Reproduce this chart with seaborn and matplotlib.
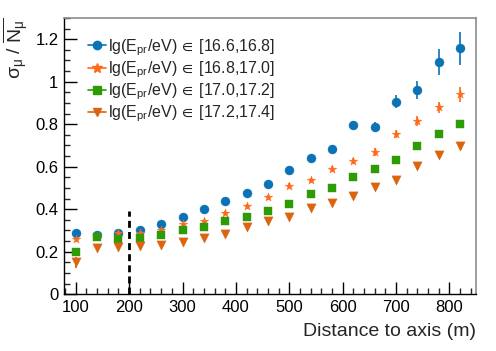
import numpy as np
import pandas as pd
import matplotlib
matplotlib.use("Agg")
import matplotlib.pyplot as plt
import seaborn as sns
from matplotlib.ticker import MultipleLocator
from matplotlib.lines import Line2D

# distance to shower axis (m)
distance = [100, 140, 180, 220, 260, 300, 340, 380, 420, 460,
            500, 540, 580, 620, 660, 700, 740, 780, 820]

# relative fluctuation sigma_mu / <N_mu>, one list per energy bin
bin_a = [0.290, 0.276, 0.290, 0.304, 0.331, 0.361, 0.400, 0.438, 0.478, 0.520,
         0.584, 0.640, 0.682, 0.795, 0.788, 0.906, 0.959, 1.092, 1.156]
bin_b = [0.259, 0.274, 0.289, 0.290, 0.300, 0.329, 0.343, 0.384, 0.413, 0.455,
         0.510, 0.536, 0.588, 0.626, 0.668, 0.753, 0.814, 0.879, 0.941]
bin_c = [0.199, 0.271, 0.259, 0.265, 0.278, 0.303, 0.315, 0.342, 0.365, 0.391,
         0.424, 0.469, 0.500, 0.549, 0.588, 0.629, 0.698, 0.753, 0.800]
bin_d = [0.149, 0.216, 0.223, 0.227, 0.231, 0.246, 0.265, 0.284, 0.317, 0.344,
         0.364, 0.405, 0.430, 0.464, 0.502, 0.536, 0.601, 0.654, 0.695]

# error bars
err_a = [0.008, 0.006, 0.006, 0.006, 0.006, 0.006, 0.007, 0.007, 0.008, 0.009,
         0.010, 0.011, 0.013, 0.018, 0.022, 0.031, 0.043, 0.060, 0.080]
err_b = [0.014, 0.008, 0.008, 0.008, 0.008, 0.008, 0.008, 0.009, 0.010, 0.010,
         0.011, 0.012, 0.013, 0.015, 0.018, 0.020, 0.024, 0.027, 0.035]
err_c = [0.010, 0.005, 0.005, 0.005, 0.005, 0.005, 0.005, 0.006, 0.006, 0.006,
         0.007, 0.007, 0.008, 0.008, 0.009, 0.010, 0.011, 0.012, 0.014]
err_d = [0.025, 0.006, 0.006, 0.006, 0.006, 0.006, 0.006, 0.006, 0.006, 0.007,
         0.007, 0.007, 0.008, 0.008, 0.009, 0.010, 0.011, 0.012, 0.013]

labels = [r"lg(E$_{\rm pr}$/eV)$\:\in\:$[16.6,16.8]",
          r"lg(E$_{\rm pr}$/eV)$\:\in\:$[16.8,17.0]",
          r"lg(E$_{\rm pr}$/eV)$\:\in\:$[17.0,17.2]",
          r"lg(E$_{\rm pr}$/eV)$\:\in\:$[17.2,17.4]"]
colors = ["#0a72b5", "#ff6a1a", "#2e9a06", "#dc640f"]
markers = ["o", "*", "s", "v"]
sizes = [42, 42, 38, 44]

sns.set_style("ticks")
plt.rcParams["font.family"] = ["Liberation Sans", "DejaVu Sans"]
plt.rcParams["mathtext.fontset"] = "custom"
plt.rcParams["mathtext.rm"] = "Liberation Sans"
plt.rcParams["mathtext.it"] = "Liberation Sans"
plt.rcParams["mathtext.bf"] = "Liberation Sans:bold"
plt.rcParams["mathtext.fallback"] = "stixsans"

frames = []
for lab, ys, es in zip(labels, [bin_a, bin_b, bin_c, bin_d], [err_a, err_b, err_c, err_d]):
    frames.append(pd.DataFrame({"distance": distance, "sigma": ys, "err": es, "bin": lab}))
df = pd.concat(frames, ignore_index=True)

fig = plt.figure(figsize=(4.96, 3.51), dpi=100)
ax = fig.add_axes([0.129, 0.162, 0.831, 0.787])

for lab, col in zip(labels, colors):
    sub = df[df["bin"] == lab]
    ax.errorbar(sub["distance"], sub["sigma"], yerr=sub["err"], fmt="none",
                ecolor=col, elinewidth=1.2, capsize=0, zorder=2)

for lab, col, mk, sz in zip(labels, colors, markers, sizes):
    sub = df[df["bin"] == lab]
    sns.scatterplot(data=sub, x="distance", y="sigma", ax=ax, color=col,
                    marker=mk, s=sz, edgecolor=col, linewidth=0.3, zorder=3,
                    legend=False)

# dashed line at 200 m
ax.plot([200, 200], [0, 0.39], color="black", ls=(0, (2.5, 1.5)), lw=2, zorder=1)

ax.set_xlim(78, 850)
ax.set_ylim(0, 1.3)
ax.xaxis.set_major_locator(MultipleLocator(100))
ax.xaxis.set_minor_locator(MultipleLocator(20))
ax.yaxis.set_major_locator(MultipleLocator(0.2))
ax.yaxis.set_minor_locator(MultipleLocator(0.05))
ax.set_yticks([0, 0.2, 0.4, 0.6, 0.8, 1.0, 1.2])
ax.set_yticklabels(["0", "0.2", "0.4", "0.6", "0.8", "1", "1.2"])
ax.tick_params(axis="both", which="major", direction="in", length=9, width=1,
               labelsize=12, colors="black", pad=4)
ax.tick_params(axis="both", which="minor", direction="in", length=4.5, width=1)

for side in ["top", "right"]:
    ax.spines[side].set_color("#8c8c8c")
    ax.spines[side].set_linewidth(1.2)
for side in ["left", "bottom"]:
    ax.spines[side].set_color("black")
    ax.spines[side].set_linewidth(1.0)

ax.set_xlabel("Distance to axis (m)", fontsize=14, loc="right", labelpad=6)
ax.set_ylabel(r"$\sigma_{\mu}$ / $\overline{N_{\mu}}$", fontsize=14, loc="top", labelpad=4)

handles = [Line2D([0], [0], color=c, marker=m, markersize=6 if m != "*" else 7.5,
                  lw=1.2) for c, m in zip(colors, markers)]
ax.legend(handles, labels, loc="upper left", bbox_to_anchor=(0.035, 0.965),
          frameon=False, fontsize=11.5, handlelength=1.1, handletextpad=0.15,
          labelspacing=0.1, borderaxespad=0.2)

fig.savefig("out.png", dpi=100)
